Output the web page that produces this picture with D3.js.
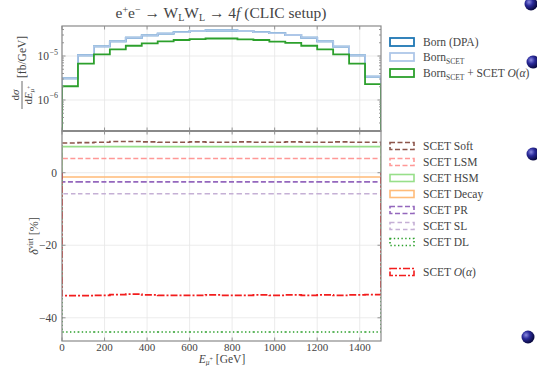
<!DOCTYPE html>
<html>
<head>
<meta charset="utf-8">
<script src="https://cdn.jsdelivr.net/npm/d3@7"></script>
<style>
  body { margin: 0; background: #fff; }
  svg { display: block; font-family: "Liberation Serif", "DejaVu Serif", serif; }
</style>
</head>
<body>
<svg id="chart" width="537" height="366"></svg>
<script>
// bin edges: 20 bins of 75 GeV
const binEdges = d3.range(0, 1501, 75);

// upper panel, dsigma/dE [fb/GeV]
const bornDpa  = [3.1e-6, 1.04e-5, 1.66e-5, 2.15e-5, 2.6e-5, 2.95e-5, 3.21e-5, 3.5e-5, 3.7e-5, 3.8e-5,
                  3.8e-5, 3.7e-5, 3.5e-5, 3.3e-5, 3.0e-5, 2.6e-5, 2.15e-5, 1.63e-5, 1.03e-5, 3.4e-6];
const bornScet = [3.1e-6, 1.04e-5, 1.66e-5, 2.15e-5, 2.6e-5, 2.95e-5, 3.21e-5, 3.5e-5, 3.7e-5, 3.8e-5,
                  3.8e-5, 3.7e-5, 3.5e-5, 3.3e-5, 3.0e-5, 2.6e-5, 2.15e-5, 1.63e-5, 1.03e-5, 3.4e-6];
const bornPlusScet = [2.05e-6, 6.7e-6, 1.09e-5, 1.42e-5, 1.71e-5, 1.94e-5, 2.15e-5, 2.31e-5, 2.43e-5, 2.5e-5,
                      2.5e-5, 2.4e-5, 2.31e-5, 2.12e-5, 1.99e-5, 1.71e-5, 1.42e-5, 1.09e-5, 6.7e-6, 2.3e-6];

// lower panel, delta^virt [%]
const scetSoft  = [8.2, 8.3, 8.4, 8.6, 8.6, 8.5, 8.4, 8.4, 8.5, 8.4, 8.4, 8.5, 8.4, 8.4, 8.5, 8.4, 8.4, 8.5, 8.4, 8.4];
const scetLsm   = [3.9, 3.9, 3.9, 3.9, 3.9, 3.9, 3.9, 3.9, 3.9, 3.9, 3.9, 3.9, 3.9, 3.9, 3.9, 3.9, 3.9, 3.9, 3.9, 3.9];
const scetHsm   = [7.2, 7.2, 7.2, 7.2, 7.2, 7.2, 7.2, 7.2, 7.2, 7.2, 7.2, 7.2, 7.2, 7.2, 7.2, 7.2, 7.2, 7.2, 7.2, 7.2];
const scetDecay = [-1.2, -1.2, -1.2, -1.2, -1.2, -1.2, -1.2, -1.2, -1.2, -1.2, -1.2, -1.2, -1.2, -1.2, -1.2, -1.2, -1.2, -1.2, -1.2, -1.2];
const scetPr    = [-2.5, -2.5, -2.5, -2.5, -2.5, -2.5, -2.5, -2.5, -2.5, -2.5, -2.5, -2.5, -2.5, -2.5, -2.5, -2.5, -2.5, -2.5, -2.5, -2.5];
const scetSl    = [-5.8, -5.8, -5.8, -5.8, -5.8, -5.8, -5.8, -5.8, -5.8, -5.8, -5.8, -5.8, -5.8, -5.8, -5.8, -5.8, -5.8, -5.8, -5.8, -5.8];
const scetDl    = [-43.9, -43.9, -43.9, -43.9, -43.9, -43.9, -43.9, -43.9, -43.9, -43.9, -43.9, -43.9, -43.9, -43.9, -43.9, -43.9, -43.9, -43.9, -43.9, -43.9];
const scetTotal = [-33.9, -33.9, -33.8, -33.6, -33.5, -33.7, -33.8, -33.8, -33.8, -33.7, -33.8, -33.8, -33.7, -33.8, -33.7, -33.8, -33.7, -33.8, -33.7, -33.6];

const xTicks = [0, 200, 400, 600, 800, 1000, 1200, 1400];
const topTicks = [1e-6, 1e-5];
const botTicks = [-40, -20, 0];

const svg = d3.select('#chart');
const ink = '#444';
const frame = '#8a8a8a';
const grid = '#e6e6e6';

const x = d3.scaleLinear().domain([0, 1500]).range([62, 381]);
const yTop = d3.scaleLog().domain([Math.pow(10, -6.705), Math.pow(10, -4.318)]).range([131, 26]);
const yBot = d3.scaleLinear().domain([-46.4, 11.5]).range([341, 131]);

const defs = svg.append('defs');
defs.append('clipPath').attr('id', 'clipTop').append('rect')
    .attr('x', 62).attr('y', 26).attr('width', 319).attr('height', 105);
defs.append('clipPath').attr('id', 'clipBot').append('rect')
    .attr('x', 62).attr('y', 131).attr('width', 319).attr('height', 210);

// step path with baseline (matplotlib histtype='step')
function stepPath(vals, y, base) {
    let p = d3.path();
    p.moveTo(x(binEdges[0]), base);
    vals.forEach((v, i) => {
        p.lineTo(x(binEdges[i]), y(v));
        p.lineTo(x(binEdges[i + 1]), y(v));
    });
    p.lineTo(x(binEdges[vals.length]), base);
    return p.toString();
}

// grids
function drawGrid(yScale, ticks, y0, y1) {
    let g = svg.append('g');
    g.selectAll('.gx').data(xTicks).enter().append('line')
        .attr('x1', d => x(d)).attr('x2', d => x(d)).attr('y1', y0).attr('y2', y1)
        .attr('stroke', grid).attr('stroke-width', 0.8);
    g.selectAll('.gy').data(ticks).enter().append('line')
        .attr('x1', 62).attr('x2', 381).attr('y1', d => yScale(d)).attr('y2', d => yScale(d))
        .attr('stroke', grid).attr('stroke-width', 0.8);
}
drawGrid(yTop, topTicks, 26, 131);
drawGrid(yBot, botTicks, 131, 341);

// upper histograms
const topSeries = [
    {vals: bornDpa, color: '#1f77b4', label: 'Born (DPA)'},
    {vals: bornScet, color: '#aec7e8', label: 'BornSCET'},
    {vals: bornPlusScet, color: '#2ca02c', label: 'BornSCET + SCET'}
];
const gTop = svg.append('g').attr('clip-path', 'url(#clipTop)');
topSeries.forEach(s => {
    gTop.append('path').attr('d', stepPath(s.vals, yTop, 200))
        .attr('fill', 'none').attr('stroke', s.color).attr('stroke-width', 1.8);
});

// lower histograms
const botSeries = [
    {vals: scetSoft, color: '#8c564b', dash: '5,2.5', w: 1.6, label: 'SCET Soft'},
    {vals: scetLsm, color: '#ff9896', dash: '5,2.5', w: 1.6, label: 'SCET LSM'},
    {vals: scetHsm, color: '#98df8a', dash: null, w: 1.6, label: 'SCET HSM'},
    {vals: scetDecay, color: '#ffbb78', dash: null, w: 1.6, label: 'SCET Decay'},
    {vals: scetPr, color: '#9467bd', dash: '5,2.5', w: 1.8, label: 'SCET PR'},
    {vals: scetSl, color: '#c5b0d5', dash: '4.5,3', w: 1.6, label: 'SCET SL'},
    {vals: scetDl, color: '#2ca02c', dash: '1.4,2.4', w: 1.6, label: 'SCET DL'},
    {vals: scetTotal, color: '#f21d1d', dash: '7,2,2,2', w: 1.8, label: 'SCET O(α)'}
];
const gBot = svg.append('g').attr('clip-path', 'url(#clipBot)');
botSeries.forEach(s => {
    gBot.append('path').attr('d', stepPath(s.vals, yBot, yBot(0)))
        .attr('fill', 'none').attr('stroke', s.color).attr('stroke-width', s.w)
        .attr('stroke-dasharray', s.dash);
});

// frames and ticks
function drawFrame(y0, y1) {
    svg.append('rect').attr('x', 62).attr('y', y0).attr('width', 319).attr('height', y1 - y0)
        .attr('fill', 'none').attr('stroke', frame).attr('stroke-width', 1.2);
}
drawFrame(26, 131);
drawFrame(131, 341);
svg.append('line').attr('x1', 62).attr('x2', 381).attr('y1', 131).attr('y2', 131)
    .attr('stroke', frame).attr('stroke-width', 2.2);

const tk = svg.append('g').attr('stroke', frame).attr('stroke-width', 0.9);
[[26, 131], [131, 341]].forEach(([y0, y1]) => {
    xTicks.forEach(d => {
        tk.append('line').attr('x1', x(d)).attr('x2', x(d)).attr('y1', y0).attr('y2', y0 + 3.5);
        tk.append('line').attr('x1', x(d)).attr('x2', x(d)).attr('y1', y1).attr('y2', y1 - 3.5);
    });
});
// log ticks, major and minor
const minorTop = [];
[1e-7, 1e-6, 1e-5].forEach(dec => d3.range(2, 10).forEach(m => minorTop.push(dec * m)));
minorTop.filter(v => v >= yTop.domain()[0] && v <= yTop.domain()[1]).forEach(v => {
    tk.append('line').attr('x1', 62).attr('x2', 64).attr('y1', yTop(v)).attr('y2', yTop(v));
    tk.append('line').attr('x1', 381).attr('x2', 379).attr('y1', yTop(v)).attr('y2', yTop(v));
});
topTicks.forEach(v => {
    tk.append('line').attr('x1', 62).attr('x2', 65.5).attr('y1', yTop(v)).attr('y2', yTop(v));
    tk.append('line').attr('x1', 381).attr('x2', 377.5).attr('y1', yTop(v)).attr('y2', yTop(v));
});
botTicks.forEach(v => {
    tk.append('line').attr('x1', 62).attr('x2', 65.5).attr('y1', yBot(v)).attr('y2', yBot(v));
    tk.append('line').attr('x1', 381).attr('x2', 377.5).attr('y1', yBot(v)).attr('y2', yBot(v));
});

// tick labels
const lab = svg.append('g').attr('fill', ink).attr('font-size', 11.5);
xTicks.forEach(d => {
    lab.append('text').attr('x', x(d)).attr('y', 351).attr('font-size', 11)
        .attr('text-anchor', 'middle').text(d);
});
topTicks.forEach(v => {
    lab.append('text').attr('x', 49).attr('y', yTop(v) + 4).attr('text-anchor', 'end').text('10');
    lab.append('text').attr('x', 49.5).attr('y', yTop(v) - 1.5).attr('font-size', 8)
        .text(v === 1e-5 ? '−5' : '−6');
});
botTicks.forEach(v => {
    lab.append('text').attr('x', 57).attr('y', yBot(v) + 4).attr('text-anchor', 'end')
        .text(v === 0 ? '0' : '−' + Math.abs(v));
});

// title
const title = svg.append('text').attr('x', 221).attr('y', 18).attr('text-anchor', 'middle')
    .attr('fill', ink).attr('font-size', 15.5);
title.append('tspan').text('e');
title.append('tspan').attr('dy', -5).attr('font-size', 10).text('+');
title.append('tspan').attr('dy', 5).text('e');
title.append('tspan').attr('dy', -5).attr('font-size', 10).text('−');
title.append('tspan').attr('dy', 5).text(' → W');
title.append('tspan').attr('dy', 3).attr('font-size', 10).text('L');
title.append('tspan').attr('dy', -3).text('W');
title.append('tspan').attr('dy', 3).attr('font-size', 10).text('L');
title.append('tspan').attr('dy', -3).text(' → 4');
title.append('tspan').attr('font-style', 'italic').text('f');
title.append('tspan').text(' (CLIC setup)');

// x label
const xl = svg.append('text').attr('x', 222).attr('y', 363).attr('text-anchor', 'middle')
    .attr('fill', ink).attr('font-size', 11.5);
xl.append('tspan').attr('font-style', 'italic').text('E');
xl.append('tspan').attr('dy', 2).attr('font-size', 7.5).attr('font-style', 'italic').text('μ');
xl.append('tspan').attr('dy', -4).attr('font-size', 6).text('+');
xl.append('tspan').attr('dy', 2).text(' [GeV]');

// top y label (rotated fraction)
const yl = svg.append('g').attr('transform', 'translate(22,78) rotate(-90)').attr('fill', ink);
yl.append('text').attr('x', -17).attr('y', -3).attr('text-anchor', 'middle').attr('font-size', 11)
    .html('d<tspan font-style="italic">σ</tspan>');
yl.append('line').attr('x1', -31).attr('x2', -3).attr('y1', 0).attr('y2', 0)
    .attr('stroke', ink).attr('stroke-width', 0.8);
const den = yl.append('text').attr('x', -17).attr('y', 10).attr('text-anchor', 'middle').attr('font-size', 11);
den.append('tspan').text('d');
den.append('tspan').attr('font-style', 'italic').text('E');
den.append('tspan').attr('dy', 2).attr('font-size', 7).attr('font-style', 'italic').text('μ');
den.append('tspan').attr('dy', -3).attr('font-size', 5.5).text('+');
yl.append('text').attr('x', 0).attr('y', 4).attr('font-size', 11.5).text('[fb/GeV]');

// bottom y label
const yl2 = svg.append('text').attr('transform', 'translate(38,236) rotate(-90)')
    .attr('text-anchor', 'middle').attr('fill', ink).attr('font-size', 12);
yl2.append('tspan').attr('font-style', 'italic').text('δ');
yl2.append('tspan').attr('dy', -5).attr('font-size', 8).text('virt');
yl2.append('tspan').attr('dy', 5).text(' [%]');

// legends
const leg = svg.append('g').attr('font-size', 11.5).attr('fill', ink);
const topRows = [42, 57, 73];
topSeries.forEach((s, i) => {
    let yy = topRows[i];
    leg.append('rect').attr('x', 390).attr('y', yy - 4).attr('width', 24).attr('height', 8)
        .attr('fill', 'none').attr('stroke', s.color).attr('stroke-width', 1.8);
    let t = leg.append('text').attr('x', 423).attr('y', yy + 4);
    if (i === 0) {
        t.text('Born (DPA)');
    } else {
        t.append('tspan').text('Born');
        t.append('tspan').attr('dy', 2.5).attr('font-size', 7.5).text('SCET');
        if (i === 2) {
            t.append('tspan').attr('dy', -2.5).text(' + SCET ');
            t.append('tspan').attr('font-style', 'italic').text('O');
            t.append('tspan').text('(');
            t.append('tspan').attr('font-style', 'italic').text('α');
            t.append('tspan').text(')');
        }
    }
});
const botRows = [146, 162, 178, 194, 210, 226, 242, 272];
botSeries.forEach((s, i) => {
    let yy = botRows[i];
    leg.append('rect').attr('x', 390).attr('y', yy - 3.5).attr('width', 24).attr('height', 7)
        .attr('fill', 'none').attr('stroke', s.color).attr('stroke-width', 1.6)
        .attr('stroke-dasharray', s.dash);
    let t = leg.append('text').attr('x', 423).attr('y', yy + 4);
    if (i === 7) {
        t.append('tspan').text('SCET ');
        t.append('tspan').attr('font-style', 'italic').text('O');
        t.append('tspan').text('(');
        t.append('tspan').attr('font-style', 'italic').text('α');
        t.append('tspan').text(')');
    } else {
        t.text(s.label);
    }
});

// bullets at right edge of the page
const balls = [[531, 4], [533, 62], [533, 154], [528, 337]];
const rg = defs.append('radialGradient').attr('id', 'ball').attr('cx', '35%').attr('cy', '35%').attr('r', '65%');
rg.append('stop').attr('offset', '0%').attr('stop-color', '#8a8ae0');
rg.append('stop').attr('offset', '45%').attr('stop-color', '#2a2a9a');
rg.append('stop').attr('offset', '100%').attr('stop-color', '#0a0a40');
svg.selectAll('.ball').data(balls).enter().append('circle')
    .attr('cx', d => d[0]).attr('cy', d => d[1]).attr('r', 6.5).attr('fill', 'url(#ball)');
</script>
</body>
</html>
